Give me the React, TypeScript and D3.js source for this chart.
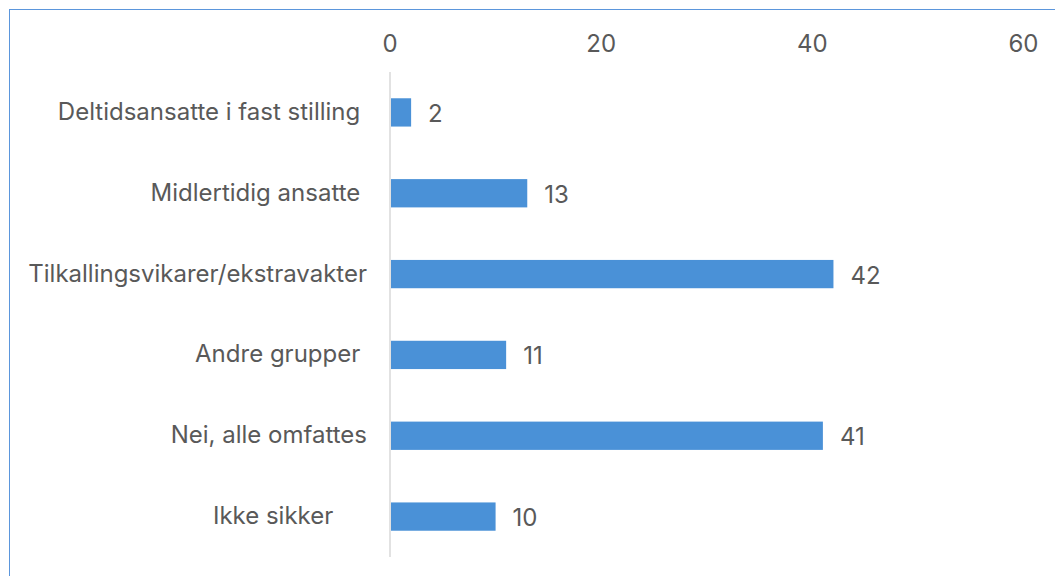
import React from "react";
import * as d3 from "d3";

const categories = [
  "Deltidsansatte i fast stilling ",
  "Midlertidig ansatte ",
  "Tilkallingsvikarer/ekstravakter",
  "Andre grupper ",
  "Nei, alle omfattes",
  "Ikke sikker     ",
];
const values = [2, 13, 42, 11, 41, 10];
const xTicks = [0, 20, 40, 60];

const W = 1055;
const H = 576;
const FONT = "Inter, 'Noto Sans', sans-serif";
const TEXT = "#595959";
const FS = 24;

export default function App() {
  const x = d3.scaleLinear().domain([0, 60]).range([390, 1023.5]);
  const y = d3
    .scaleBand<string>()
    .domain(categories)
    .range([72, 557])
    .paddingInner(0.65)
    .paddingOuter(0.325);

  return (
    <svg
      width={W}
      height={H}
      style={{ position: "absolute", left: 0, top: 0, display: "block", overflow: "hidden", background: "#fff" }}
    >
      <rect x={9.5} y={9.5} width={W + 20} height={H + 20} fill="#fff" stroke="#5b96dc" strokeWidth={1} />
      {xTicks.map((t) => (
        <text
          key={t}
          x={x(t)}
          y={43}
          textAnchor="middle"
          dominantBaseline="central"
          fontFamily={FONT}
          fontSize={FS}
          fill={TEXT}
        >
          {t}
        </text>
      ))}
      {categories.map((c, i) => {
        const y0 = y(c)!;
        const bw = y.bandwidth();
        return (
          <g key={c}>
            <rect x={x(0) + 1} y={y0} width={x(values[i]) - x(0) - 1} height={bw} fill="#4a91d7" />
            <text
              x={367}
              y={y0 + bw / 2 - 1}
              textAnchor="end"
              dominantBaseline="central"
              fontFamily={FONT}
              fontSize={FS}
              fill={TEXT}
              style={{ whiteSpace: "pre" }}
            >
              {c}
            </text>
            <text
              x={x(values[i]) + 17}
              y={y0 + bw / 2 + 1}
              dominantBaseline="central"
              fontFamily={FONT}
              fontSize={FS}
              fill={TEXT}
            >
              {values[i]}
            </text>
          </g>
        );
      })}
      <line x1={x(0)} x2={x(0)} y1={72} y2={557} stroke="#d9d9d9" strokeWidth={1.5} />
    </svg>
  );
}
